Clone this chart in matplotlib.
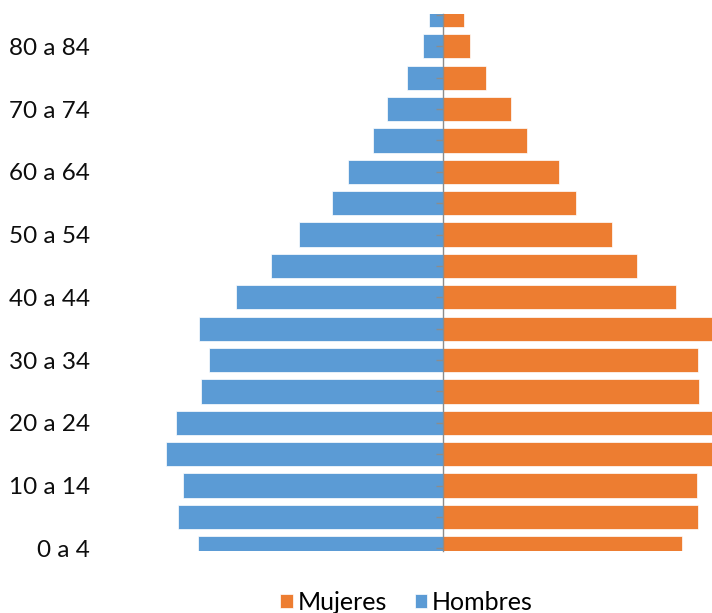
import matplotlib.pyplot as plt

# grupos de edad, de abajo hacia arriba
edades = ['0 a 4', '5 a 9', '10 a 14', '15 a 19', '20 a 24', '25 a 29',
          '30 a 34', '35 a 39', '40 a 44', '45 a 49', '50 a 54', '55 a 59',
          '60 a 64', '65 a 69', '70 a 74', '75 a 79', '80 a 84', '85 y más']

# porcentaje de la población (estimado)
hombres = [3.95, 4.28, 4.20, 4.46, 4.30, 3.90, 3.77, 3.94, 3.34, 2.77,
           2.33, 1.79, 1.53, 1.13, 0.90, 0.58, 0.32, 0.22]
mujeres = [3.86, 4.12, 4.09, 4.70, 4.65, 4.13, 4.12, 4.55, 3.76, 3.13,
           2.73, 2.15, 1.87, 1.35, 1.10, 0.69, 0.44, 0.34]

# etiquetas visibles (una de cada dos)
etiquetas = ['0 a 4', '10 a 14', '20 a 24', '30 a 34', '40 a 44',
             '50 a 54', '60 a 64', '70 a 74', '80 a 84']

azul = '#5B9BD5'
naranja = '#ED7D31'

plt.rcParams['font.family'] = ['Lato', 'DejaVu Sans']

fig = plt.figure(figsize=(7.12, 6.13), dpi=100)
ax = fig.add_axes([100 / 712, 62.3 / 613, 612 / 712, 536.7 / 613])

pos = list(range(len(edades)))
neg_h = [-v for v in hombres]

ax.barh(pos, mujeres, height=0.775, color=naranja, edgecolor='white',
        linewidth=0.5, label='Mujeres')
ax.barh(pos, neg_h, height=0.775, color=azul, edgecolor='white',
        linewidth=0.5, label='Hombres')

ax.set_xlim(-343 / 62, 269 / 62)
ax.set_ylim(-0.077, 17.03)

for s in ['top', 'right', 'bottom']:
    ax.spines[s].set_visible(False)
ax.spines['left'].set_position(('data', 0))
ax.spines['left'].set_color('#8C8C8C')
ax.spines['left'].set_linewidth(1.0)
ax.set_xticks([])
ax.set_yticks(pos)
ax.set_yticklabels([])
ax.tick_params(axis='y', direction='out', length=5, width=1.0,
               color='#8C8C8C')

# etiquetas de edad a la izquierda
sec = ax.secondary_yaxis('left')
sec.set_yticks(pos[::2])
sec.set_yticklabels(etiquetas)
sec.spines['left'].set_visible(False)
sec.tick_params(axis='y', length=0, pad=7, labelsize=17.5, labelcolor='#0D0D0D')

fig.legend(loc='center', bbox_to_anchor=(0.571, 0.017), ncol=2, frameon=False,
           fontsize=18, handlelength=0.5, handleheight=0.5,
           handletextpad=0.2, columnspacing=1.1)

fig.savefig('out.png', dpi=100)
